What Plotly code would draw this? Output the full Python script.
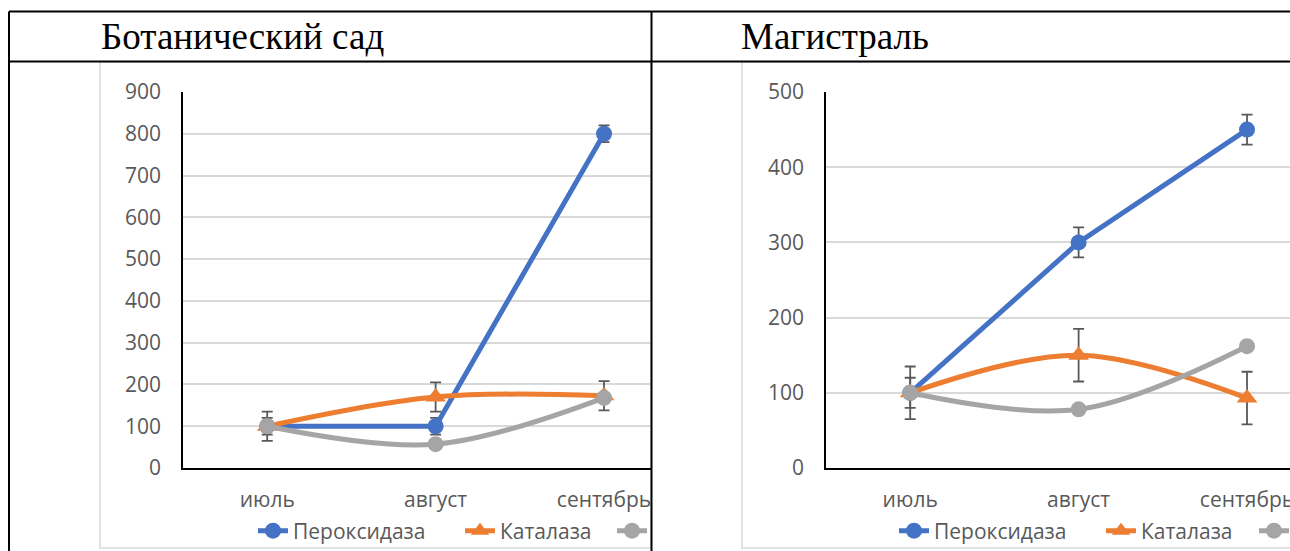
import plotly.graph_objects as go

W, H = 1290, 551

# ---------------- data ----------------
months = ["июль", "август", "сентябрь"]
name_perox = "Пероксидаза"
name_catal = "Каталаза"
name_third = " "  # third series name is cut off in the original

bot_perox = [100, 100, 800]
bot_perox_err = [20, 20, 20]
bot_catal = [100, 170, 173]
bot_catal_err = [35, 35, 35]
bot_third = [100, 57, 168]

mag_perox = [100, 300, 450]
mag_perox_err = [20, 20, 20]
mag_catal = [100, 150, 93]
mag_catal_err = [35, 35, 35]
mag_third = [100, 78, 162]

y1_ticks = [0, 100, 200, 300, 400, 500, 600, 700, 800, 900]
y2_ticks = [0, 100, 200, 300, 400, 500]

titles = ["Ботанический сад", "Магистраль"]

# ---------------- styles ----------------
BLUE, ORANGE, GRAY = "#4472C4", "#ED7D31", "#A5A5A5"
ERR = "#595959"
TXT = "#595959"
FONT = "Open Sans"
FS = 21
LW = 5


def px_x(p):
    return p / W


def px_y(p):
    return 1 - p / H


fig = go.Figure()


def add_chart(xa, ya, legs, perox, perox_err, catal, catal_err, third):
    fig.add_trace(go.Scatter(
        x=months, y=perox, name=name_perox, mode="lines+markers",
        line=dict(color=BLUE, width=LW),
        marker=dict(symbol="circle", size=16, color=BLUE),
        error_y=dict(type="data", array=perox_err, color=ERR, thickness=1.8, width=5.5),
        xaxis=xa, yaxis=ya, legend=legs[0]))
    fig.add_trace(go.Scatter(
        x=months, y=catal, name=name_catal, mode="lines+markers",
        line=dict(color=ORANGE, width=LW, shape="spline", smoothing=1),
        marker=dict(symbol="triangle-up", size=18, color=ORANGE),
        error_y=dict(type="data", array=catal_err, color=ERR, thickness=1.8, width=5.5),
        xaxis=xa, yaxis=ya, legend=legs[1]))
    fig.add_trace(go.Scatter(
        x=months, y=third, name=name_third, mode="lines+markers",
        line=dict(color=GRAY, width=LW, shape="spline", smoothing=1),
        marker=dict(symbol="circle", size=16, color=GRAY),
        xaxis=xa, yaxis=ya, legend=legs[2]))


add_chart("x", "y", ["legend", "legend2", "legend3"],
          bot_perox, bot_perox_err, bot_catal, bot_catal_err, bot_third)
add_chart("x2", "y2", ["legend4", "legend5", "legend6"],
          mag_perox, mag_perox_err, mag_catal, mag_catal_err, mag_third)

ydom = [px_y(468), px_y(92)]
xcommon = dict(showgrid=False, showline=True, linecolor="black", linewidth=1.5,
               ticks="", tickfont=dict(family=FONT, size=FS, color=TXT),
               ticklabelstandoff=12, zeroline=False, fixedrange=True,
               type="category")
ycommon = dict(showgrid=True, gridcolor="#D9D9D9", gridwidth=1.5,
               showline=True, linecolor="black", linewidth=1.5, ticks="",
               tickfont=dict(family=FONT, size=FS, color=TXT),
               ticklabelstandoff=16, zeroline=False, fixedrange=True,
               domain=ydom)

c1_left, c1_right, c1_first = 183, 652, 267
c2_left, c2_right, c2_first = 826, 1290, 910
step = 168.5


def leg(xpix):
    return dict(orientation="h", x=px_x(xpix), xanchor="left", y=px_y(531), yanchor="middle",
                font=dict(family=FONT, size=FS, color=TXT), bgcolor="rgba(0,0,0,0)",
                borderwidth=0)


fig.update_layout(
    width=W, height=H, margin=dict(l=0, r=0, t=0, b=0, autoexpand=False),
    paper_bgcolor="white", plot_bgcolor="white",
    font=dict(family=FONT, color=TXT),
    xaxis=dict(**xcommon, domain=[px_x(c1_left), px_x(c1_right)], anchor="y",
               range=[-0.5, (c1_right - c1_first) / step]),
    yaxis=dict(**ycommon, anchor="x", range=[0, 900], tickvals=y1_ticks),
    xaxis2=dict(**xcommon, domain=[px_x(c2_left), px_x(c2_right)], anchor="y2",
                range=[-0.5, (c2_right - c2_first) / step]),
    yaxis2=dict(**ycommon, anchor="x2", range=[0, 500], tickvals=y2_ticks),
    legend=leg(253), legend2=leg(460), legend3=leg(612),
    legend4=leg(894), legend5=leg(1101), legend6=leg(1254),
    showlegend=True,
)

shapes = []
# Excel chart frames
for x0, x1 in [(100, 651), (742, 1300)]:
    shapes.append(dict(type="rect", xref="paper", yref="paper", layer="below",
                       x0=px_x(x0), x1=px_x(x1), y0=px_y(548), y1=px_y(62),
                       line=dict(color="#D9D9D9", width=1.5), fillcolor="rgba(0,0,0,0)"))
# table borders
for (x0, y0, x1, y1) in [(9, 11.5, 1300, 11.5), (9, 61.5, 1300, 61.5),
                         (9, 11.5, 9, 560), (651.5, 11.5, 651.5, 560)]:
    shapes.append(dict(type="line", xref="paper", yref="paper", layer="above",
                       x0=px_x(x0), x1=px_x(x1), y0=px_y(y0), y1=px_y(y1),
                       line=dict(color="black", width=2)))
fig.update_layout(shapes=shapes)

for t, xpos in zip(titles, [99, 739]):
    fig.add_annotation(text=t, xref="paper", yref="paper", x=px_x(xpos), y=px_y(36),
                       xanchor="left", yanchor="middle", showarrow=False,
                       font=dict(family="Liberation Serif", size=37, color="black"))

fig.write_html("out.html", config={"displayModeBar": False},
               post_script="document.body.style.margin='0';document.body.style.overflow='hidden';")
